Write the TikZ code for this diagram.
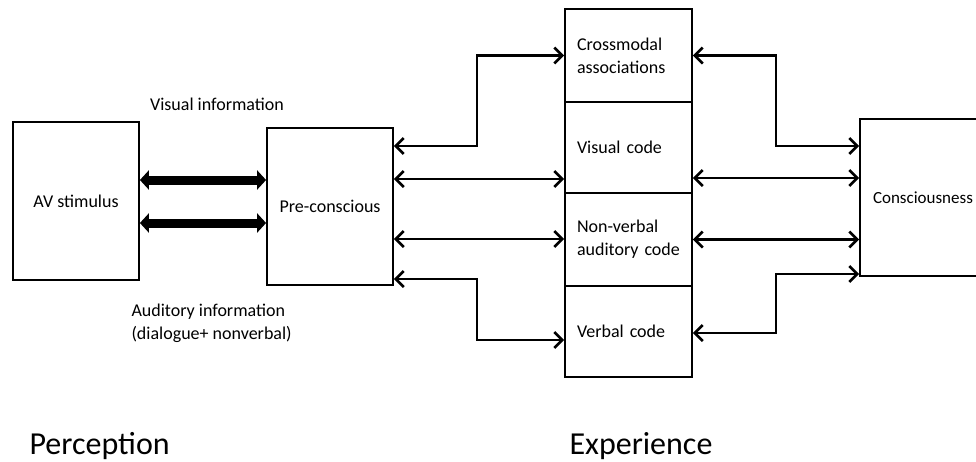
\documentclass[tikz,border=0pt]{standalone}
\usepackage{fontspec}
\setmainfont{Carlito}
\usetikzlibrary{arrows.meta}
\begin{document}
\begin{tikzpicture}[x=1pt,y=-1pt,
  box/.style={draw, line width=1.8pt, rectangle, inner sep=0pt, font=\fontsize{18}{23}\selectfont},
  cell/.style={box, minimum width=127pt, text width=103pt, align=left, inner xsep=12pt},
  lbl/.style={font=\fontsize{18}{23}\selectfont, align=left},
  big/.style={font=\fontsize{32}{36}\selectfont},
  link/.style={line width=2.2pt, {Straight Barb[length=8pt,width=16pt,line width=2.6pt]}-{Straight Barb[length=8pt,width=16pt,line width=2.6pt]}},
  bold/.style={line width=9pt, {Triangle[length=9pt,width=19pt]}-{Triangle[length=9pt,width=19pt]}}
]
\useasboundingbox (0,0) rectangle (976,461);
\fill[white] (0,0) rectangle (976,461);

% perception side
\node[box, minimum width=126pt, minimum height=158pt] (av) at (76,201) {AV stimulus};
\node[box, minimum width=126pt, minimum height=157pt] (pre) at (330,206.5) {Pre-conscious};

\draw[bold] ([yshift=21pt]av.east) -- ([yshift=21pt]av.east -| pre.west);
\draw[bold] ([yshift=-22pt]av.east) -- ([yshift=-22pt]av.east -| pre.west);

\node[lbl, anchor=base] (vis) at (217,110) {Visual information};
\node[lbl, anchor=north west] (aud) at (128,300) {Auditory information\\(dialogue+ nonverbal)};

% experience column
\node[cell, minimum height=93pt] (cm) at (628.5,55.5) {Crossmodal\\associations};
\node[cell, minimum height=91pt] (vc) at (628.5,147.5) {Visual code};
\node[cell, minimum height=93pt] (nv) at (628.5,239.5) {Non-verbal\\auditory code};
\node[cell, minimum height=91pt] (vb) at (628.5,331.5) {Verbal code};

% consciousness
\node[box, minimum width=142pt, minimum height=157pt, text width=116pt, align=left, inner xsep=12pt, font=\fontsize{17}{21}\selectfont] (con) at (931,197.5) {Consciousness};

% links between pre-conscious and the codes
\coordinate (jl) at (477,0);
\draw[link] ([yshift=60.5pt]pre.east) -| (jl |- cm.west) -- (cm.west);
\draw[link] ([yshift=27.5pt]pre.east) -- ([yshift=27.5pt]pre.east -| vc.west);
\draw[link] ([yshift=-32.5pt]pre.east) -- ([yshift=-32.5pt]pre.east -| nv.west);
\draw[link] ([yshift=-72.5pt]pre.east) -| ([yshift=-8.5pt]jl |- vb.west) -- ([yshift=-8.5pt]vb.west);

% links between the codes and consciousness
\coordinate (jr) at (776,0);
\draw[link] (cm.east) -| ([yshift=51.5pt]jr |- con.west) -- ([yshift=51.5pt]con.west);
\draw[link] ([yshift=-30.5pt]vc.east) -- ([yshift=-30.5pt]vc.east -| con.west);
\draw[link] (nv.east) -- (nv.east -| con.west);
\draw[link] ([yshift=-1.5pt]vb.east) -| ([yshift=-76.5pt]jr |- con.west) -- ([yshift=-76.5pt]con.west);

% stage titles
\node[big, anchor=base west] (perc) at (26,454) {Perception};
\node[big, anchor=base west] (exp) at (566,454) {Experience};
\end{tikzpicture}
\end{document}
